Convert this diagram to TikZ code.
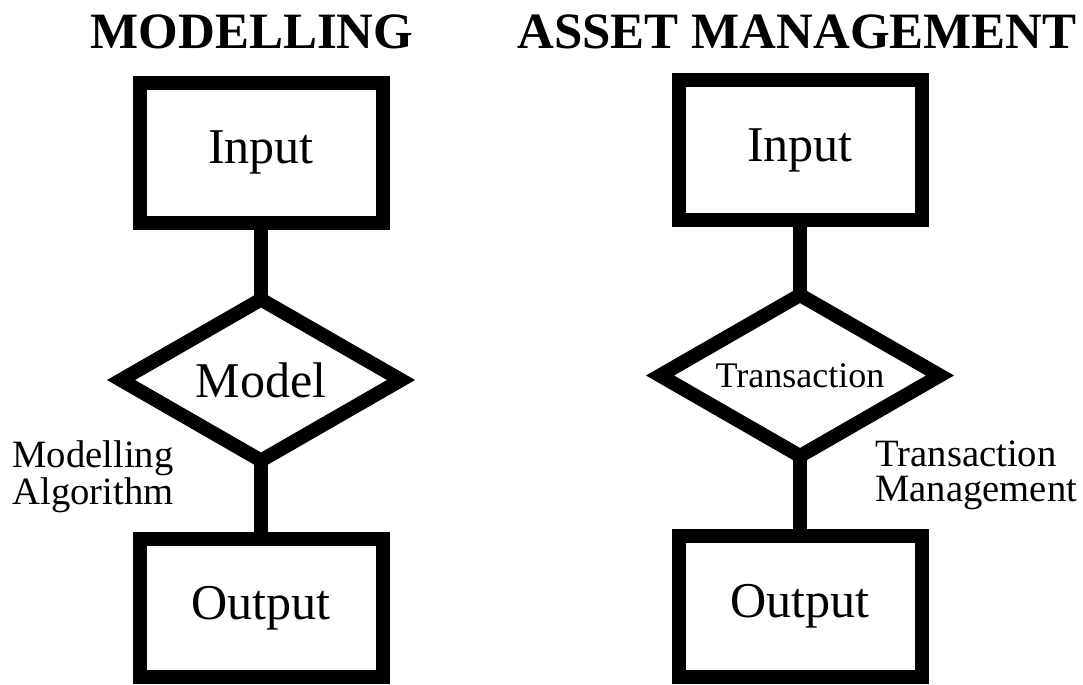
\documentclass[tikz,border=0pt]{standalone}
\usepackage{fontspec}
\setmainfont{Liberation Serif}
\usetikzlibrary{shapes.geometric}

\begin{document}
\begin{tikzpicture}[
    blocco/.style={draw, line width=0.28cm, minimum width=4.86cm, minimum height=2.8cm,
      inner sep=0pt, outer sep=0pt, font=\fontsize{28.5}{30}\selectfont},
    rombo/.style={draw, diamond, aspect=1.75, line width=0.28cm, minimum width=5.6cm,
      minimum height=3.22cm, inner sep=0pt, outer sep=0pt},
    linea/.style={line width=0.28cm},
    titolo/.style={font=\bfseries\fontsize{29}{32}\selectfont, anchor=base},
    nota/.style={font=\fontsize{22}{19.8}\selectfont, align=left, anchor=west, inner sep=0pt}
  ]
  \useasboundingbox (0,0) rectangle (21.66,-13.68);

  % Titoli delle due colonne
  \node[titolo] (tmod) at (5.04,-0.96) {MODELLING};
  \node[titolo] (tasset) at (15.94,-0.96) {ASSET MANAGEMENT};

  % Colonna sinistra: input, modello, output
  \node[blocco] (in1) at (5.22,-3.05) {Input};
  \node[rombo, font=\fontsize{28.5}{30}\selectfont] (mod) at (5.22,-7.6) {Model};
  \node[blocco, minimum height=2.76cm] (out1) at (5.22,-12.16) {Output};
  \draw[linea] (in1) -- (mod);
  \draw[linea] (mod) -- (out1);

  % Etichetta a sinistra
  \node[nota] (alg) at (0.24,-9.54) {Modelling\\Algorithm};

  % Colonna destra: input, transazione, output
  \node[blocco] (in2) at (16,-3.0) {Input};
  \node[rombo, font=\fontsize{20.5}{22}\selectfont] (tra) at (16,-7.51) {Transaction};
  \node[blocco, minimum height=2.82cm] (out2) at (16,-12.13) {Output};
  \draw[linea] (in2) -- (tra);
  \draw[linea] (tra) -- (out2);

  % Etichetta a destra
  \node[nota] (gest) at (17.5,-9.5) {Transaction\\Management};
\end{tikzpicture}
\end{document}
